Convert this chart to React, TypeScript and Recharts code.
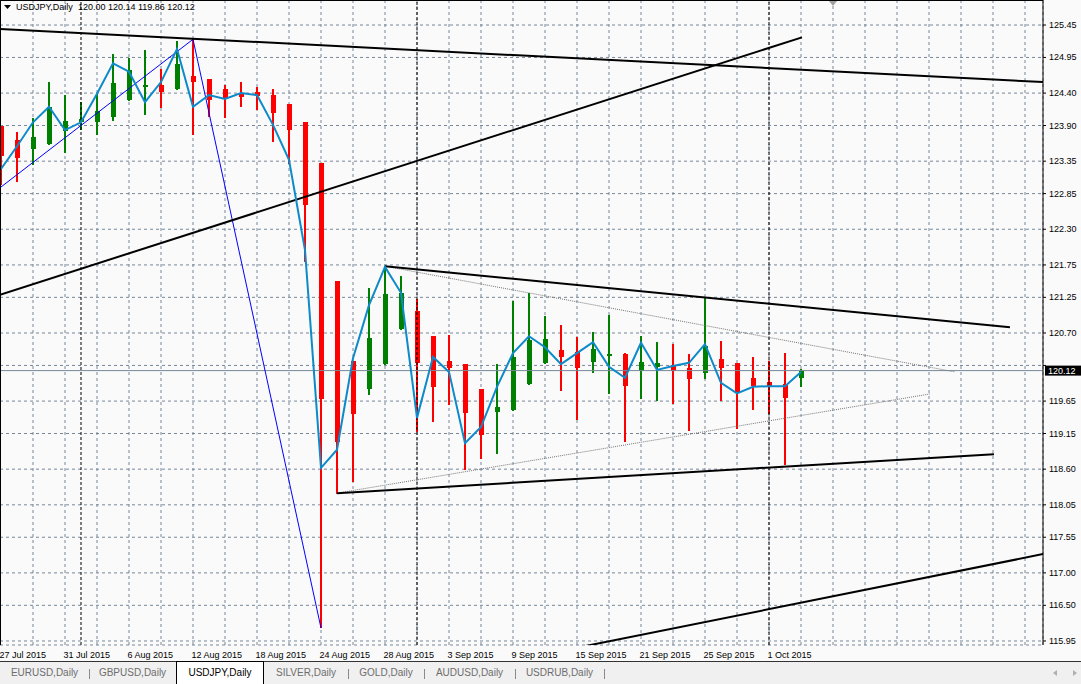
import React from 'react';
import { ComposedChart, Bar, Line, XAxis, YAxis, CartesianGrid, ReferenceLine } from 'recharts';

const FONT = "'Liberation Sans', Arial, sans-serif";
const BG = '#fafafa';
const PLOT_BOTTOM = 645;

const dates = ["27 Jul 2015","28 Jul 2015","29 Jul 2015","30 Jul 2015","31 Jul 2015","3 Aug 2015","4 Aug 2015","5 Aug 2015","6 Aug 2015","7 Aug 2015","10 Aug 2015","11 Aug 2015","12 Aug 2015","13 Aug 2015","14 Aug 2015","17 Aug 2015","18 Aug 2015","19 Aug 2015","20 Aug 2015","21 Aug 2015","24 Aug 2015","25 Aug 2015","26 Aug 2015","27 Aug 2015","28 Aug 2015","31 Aug 2015","1 Sep 2015","2 Sep 2015","3 Sep 2015","4 Sep 2015","7 Sep 2015","8 Sep 2015","9 Sep 2015","10 Sep 2015","11 Sep 2015","14 Sep 2015","15 Sep 2015","16 Sep 2015","17 Sep 2015","18 Sep 2015","21 Sep 2015","22 Sep 2015","23 Sep 2015","24 Sep 2015","25 Sep 2015","28 Sep 2015","29 Sep 2015","30 Sep 2015","1 Oct 2015","2 Oct 2015","5 Oct 2015"];

const open = [123.89,123.68,123.54,123.61,123.82,123.95,123.95,124.03,124.29,124.51,124.52,124.46,124.66,124.62,124.46,124.40,124.42,124.37,124.23,123.95,123.32,121.50,120.27,119.84,120.22,120.76,121.04,120.65,120.27,120.22,119.84,119.48,119.51,119.91,120.24,120.44,120.41,120.25,120.35,120.38,120.11,120.18,120.21,120.16,120.08,120.30,120.24,120.01,119.94,119.91,120.00];
const high = [123.89,123.80,124.02,124.57,124.37,124.26,124.39,125.00,124.94,125.06,124.77,125.20,125.23,124.62,124.52,124.57,124.49,124.46,124.23,123.95,123.32,121.50,120.27,121.39,121.73,121.58,121.22,120.65,120.67,120.22,119.84,120.22,121.19,121.32,120.96,120.82,120.64,120.72,120.98,120.39,120.65,120.56,120.53,120.38,121.24,120.58,120.24,120.33,120.27,120.39,120.14];
const low = [122.98,123.03,123.29,123.60,123.48,123.83,123.75,123.97,124.28,124.06,124.17,124.45,123.75,124.03,124.02,124.19,124.14,123.65,123.31,121.80,116.15,118.22,118.40,119.74,120.21,120.75,119.17,119.33,119.59,118.59,118.76,118.83,119.50,119.90,120.22,119.81,119.36,120.08,119.76,119.02,119.68,119.65,119.61,119.19,119.99,119.65,119.22,119.51,119.45,118.66,119.86];
const close = [123.43,123.40,123.72,124.19,123.97,124.00,124.12,124.56,124.76,124.52,124.42,124.85,124.57,124.29,124.31,124.34,124.35,124.09,123.83,122.67,119.68,119.02,119.45,120.62,121.30,121.32,120.24,119.87,120.16,119.47,119.13,119.56,120.33,120.59,120.61,120.33,120.16,120.45,120.38,119.88,120.25,120.24,120.11,119.99,120.50,120.16,119.79,119.88,119.88,119.70,120.12];
const blueLine = [123.23,123.58,123.95,124.19,123.83,123.95,124.39,124.86,124.73,124.26,124.57,125.08,124.19,124.37,124.31,124.40,124.37,123.91,123.37,121.98,118.62,118.90,120.31,121.13,121.72,121.32,119.39,120.33,120.10,119.00,119.25,119.87,120.39,120.65,120.48,120.22,120.39,120.56,120.18,120.01,120.55,120.13,120.19,120.24,120.53,119.93,119.77,119.87,119.88,119.88,120.10];

const priceTicks = [125.45,124.95,124.40,123.90,123.35,122.85,122.30,121.75,121.25,120.70,120.20,119.65,119.15,118.60,118.05,117.55,117.00,116.50,115.95];
const labelTicks = [0,4,8,12,16,20,24,28,32,36,40,44,48];
const gridTicks = Array.from({ length: 33 }, (_, k) => k * 2);
const separators = [5, 26, 48];
const bidPrice = 120.12;

const X_DOMAIN: [number, number] = [-0.0625, 65.125];
const Y_DOMAIN: [number, number] = [115.888, 125.836];

// trend lines: [x1, y1, x2, y2] in (bar index, price)
const thickLines = [
  [-0.0625, 125.39, 65.125, 124.57],
  [-0.0625, 121.29, 50.06, 125.26],
  [35.875, 115.84, 65.125, 117.29],
  [24, 121.73, 63.06, 120.79],
  [21, 118.23, 62.06, 118.83],
];
const dottedLines = [
  [24, 121.73, 59.625, 120.10],
  [21, 118.23, 58.06, 119.76],
];
const thinBlueLines = [
  [-0.0625, 122.94, 12, 125.23],
  [12, 125.23, 20, 116.15],
];

const tabs = ['EURUSD,Daily', 'GBPUSD,Daily', 'USDJPY,Daily', 'SILVER,Daily', 'GOLD,Daily', 'AUDUSD,Daily', 'USDRUB,Daily'];
const tabWidths = [89, 87, 88, 84, 76, 91, 89];
const activeTab = 2;

const Candle = (props: any) => {
  const { x, y, width, height, payload } = props;
  if (x == null || y == null) return <g />;
  const { o, h, l, c } = payload;
  const cx = Math.round(x + width / 2 + 0.5);
  const k = height / (h - l || 1);
  const yO = y + (h - o) * k;
  const yC = y + (h - c) * k;
  const color = c >= o ? '#008000' : '#ff0000';
  const top = Math.min(yO, yC);
  const bh = Math.max(2, Math.abs(yO - yC));
  return (
    <g shapeRendering="crispEdges">
      <rect x={cx - 1} y={y} width={2} height={Math.max(1, height)} fill={color} />
      <rect x={cx - 2} y={top} width={5} height={bh} fill={color} />
    </g>
  );
};

const PriceTick = (props: any) => {
  const { x, y, payload } = props;
  if (Math.abs(payload.value - 120.2) < 1e-6) return <g />;
  return (
    <text x={x} y={y} dy={3} textAnchor="start" fontSize={9} fill="#000" fontFamily={FONT}>
      {Number(payload.value).toFixed(2)}
    </text>
  );
};

const DateTick = (props: any) => {
  const { x, payload } = props;
  return (
    <text x={x - 1.5} y={PLOT_BOTTOM + 13} textAnchor="start" fontSize={9} fill="#000" fontFamily={FONT}>
      {dates[payload.value]}
    </text>
  );
};

const BidLabel = (props: any) => {
  const vb = props.viewBox || {};
  const left = vb.x + vb.width + 2;
  return (
    <g>
      <rect x={left} y={vb.y - 5} width={36} height={10} fill="#000" />
      <text x={left + 3} y={vb.y + 3.5} fill="#fff" fontSize={9} fontFamily={FONT}>{bidPrice.toFixed(2)}</text>
    </g>
  );
};

export default function App() {
  const data = dates.map((d, i) => ({
    i,
    date: d,
    range: [low[i], high[i]],
    o: open[i],
    h: high[i],
    l: low[i],
    c: close[i],
    z: blueLine[i],
  }));

  let acc = 0;
  const tabLefts = tabWidths.map((w) => { const l = acc; acc += w; return l; });

  return (
    <div style={{ position: 'absolute', left: 0, top: 0, width: 1081, height: 684, background: BG, overflow: 'hidden', fontFamily: FONT }}>
      <ComposedChart width={1081} height={661} data={data} margin={{ top: 0, right: 0, bottom: 0, left: 0 }}>
        <XAxis xAxisId="grid" dataKey="i" type="number" domain={X_DOMAIN} allowDataOverflow ticks={gridTicks} hide />
        <XAxis
          xAxisId="main"
          dataKey="i"
          type="number"
          domain={X_DOMAIN}
          allowDataOverflow
          ticks={labelTicks}
          interval={0}
          height={16}
          tickSize={4}
          tickLine={{ stroke: '#000' }}
          axisLine={{ stroke: '#000' }}
          tick={<DateTick />}
        />
        <YAxis
          orientation="right"
          type="number"
          domain={Y_DOMAIN}
          allowDataOverflow
          ticks={priceTicks}
          interval={0}
          width={38}
          tickSize={3}
          tickMargin={3}
          tickLine={{ stroke: '#000' }}
          axisLine={{ stroke: '#000' }}
          tick={<PriceTick />}
        />
        <CartesianGrid xAxisId="grid" stroke="#778899" strokeDasharray="3 3" fill={BG} fillOpacity={1} />
        {separators.map((s) => (
          <ReferenceLine key={'sep' + s} xAxisId="main" x={s} stroke="#000" strokeDasharray="3 2" strokeWidth={1} />
        ))}
        <ReferenceLine xAxisId="main" y={bidPrice} stroke="#778899" strokeWidth={1} label={<BidLabel />} />
        <Bar xAxisId="main" dataKey="range" barSize={5} shape={<Candle />} isAnimationActive={false} />
        {thinBlueLines.map((t, k) => (
          <ReferenceLine key={'tb' + k} xAxisId="main" segment={[{ x: t[0], y: t[1] }, { x: t[2], y: t[3] }]} stroke="#0000ff" strokeWidth={1} ifOverflow="hidden" />
        ))}
        {dottedLines.map((t, k) => (
          <ReferenceLine key={'dl' + k} xAxisId="main" segment={[{ x: t[0], y: t[1] }, { x: t[2], y: t[3] }]} stroke="#777" strokeDasharray="1 1" strokeWidth={1} ifOverflow="hidden" />
        ))}
        {thickLines.map((t, k) => (
          <ReferenceLine key={'tl' + k} xAxisId="main" segment={[{ x: t[0], y: t[1] }, { x: t[2], y: t[3] }]} stroke="#000" strokeWidth={2} ifOverflow="hidden" />
        ))}
        <Line xAxisId="main" dataKey="z" type="linear" stroke="#0d8ac9" strokeWidth={2} dot={false} activeDot={false} isAnimationActive={false} />
      </ComposedChart>

      {/* plot frame (left, top) */}
      <div style={{ position: 'absolute', left: 0, top: 0, width: 1, height: 645, background: '#000' }} />
      <div style={{ position: 'absolute', left: 0, top: 0, width: 1043, height: 1, background: '#000' }} />

      {/* header */}
      <svg style={{ position: 'absolute', left: 4, top: 5 }} width={8} height={6}>
        <polygon points="0,0 7,0 3.5,4" fill="#000" />
      </svg>
      <div style={{ position: 'absolute', left: 16, top: 2, fontSize: 9, color: '#000', whiteSpace: 'pre', lineHeight: '11px' }}>
        USDJPY,Daily{'  '}120.00 120.14 119.86 120.12
      </div>
      {/* shift marker */}
      <svg style={{ position: 'absolute', left: 829, top: 1 }} width={9} height={6}>
        <polygon points="0,0 8,0 4,5" fill="#a0a0a0" />
      </svg>

      {/* tab bar */}
      <div style={{ position: 'absolute', left: 0, top: 661, width: 1081, height: 23, background: '#f0f0f0', borderTop: '1px solid #333', boxSizing: 'border-box' }}>
        {tabs.map((t, k) => {
          const active = k === activeTab;
          return (
            <div
              key={t}
              style={{
                position: 'absolute',
                left: tabLefts[k],
                top: active ? -1 : 0,
                width: tabWidths[k],
                height: active ? 23 : 22,
                boxSizing: 'border-box',
                background: active ? '#fff' : 'transparent',
                borderLeft: active ? '1px solid #000' : 'none',
                borderRight: active ? '1px solid #000' : 'none',
                borderTop: active ? '1px solid #000' : 'none',
                color: active ? '#000' : '#6d6d6d',
                fontSize: 10,
                lineHeight: active ? '21px' : '22px',
                textAlign: 'center',
                whiteSpace: 'nowrap',
              }}
            >
              {t}
            </div>
          );
        })}
        {tabLefts.slice(1).concat([acc]).map((l, k) =>
          k + 1 === activeTab || k === activeTab ? null : (
            <div key={'s' + k} style={{ position: 'absolute', left: l, top: 7, width: 1, height: 10, background: '#8a8a8a' }} />
          )
        )}
        <svg style={{ position: 'absolute', left: 1053, top: 8 }} width={26} height={8}>
          <polygon points="4,0 4,6 0,3" fill="#b0b0b0" />
          <polygon points="20,0 20,6 24,3" fill="#b0b0b0" />
        </svg>
      </div>
    </div>
  );
}
